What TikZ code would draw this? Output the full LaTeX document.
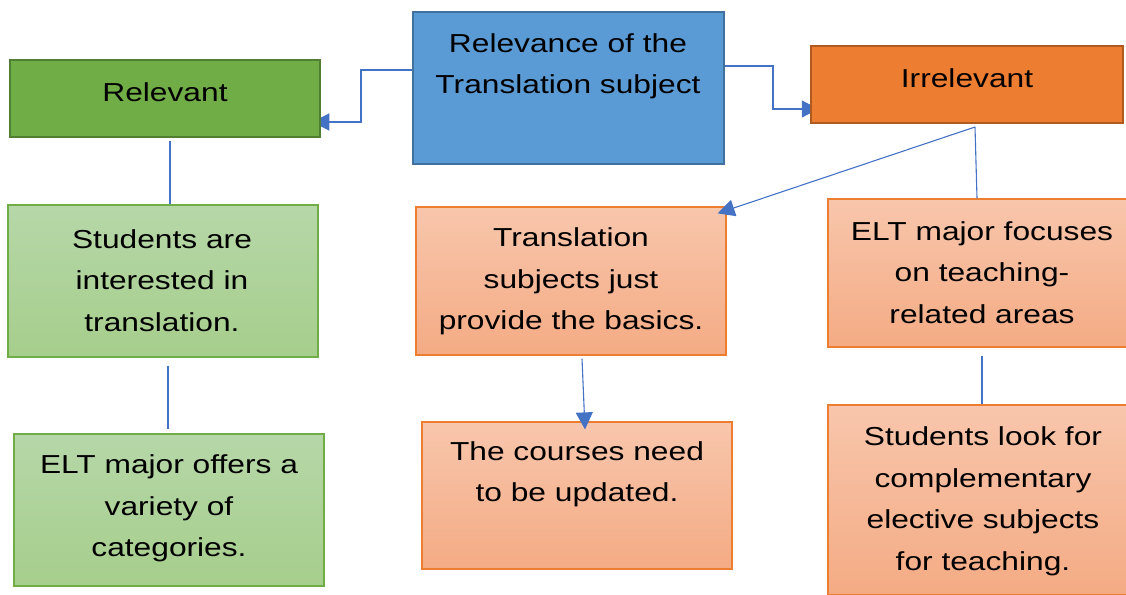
\documentclass[tikz,border=0pt]{standalone}
\usepackage{fontspec}
\setmainfont{Liberation Sans}[FakeStretch=1.22]
\usetikzlibrary{arrows.meta,calc}
\pgfdeclarelayer{behind}
\pgfsetlayers{behind,main}

\definecolor{relFill}{HTML}{70AD47}
\definecolor{relEdge}{HTML}{507E32}
\definecolor{ctrFill}{HTML}{5B9BD5}
\definecolor{ctrEdge}{HTML}{41719C}
\definecolor{irrFill}{HTML}{ED7D31}
\definecolor{irrEdge}{HTML}{AE5A21}
\definecolor{gTop}{HTML}{B6D7A8}
\definecolor{gBot}{HTML}{A6CE8C}
\definecolor{gEdge}{HTML}{70AD47}
\definecolor{oTop}{HTML}{F8C6AC}
\definecolor{oBot}{HTML}{F4AB84}
\definecolor{oEdge}{HTML}{ED7D31}
\definecolor{linkCol}{HTML}{4472C4}

\begin{document}
\begin{tikzpicture}[x=1pt,y=-1pt,
  box/.style={rectangle, inner sep=0pt, minimum width=310pt},
  headbox/.style={box, line width=2.5pt, minimum height=77pt},
  greenbox/.style={box, draw=gEdge, line width=1.2pt, top color=gTop, bottom color=gBot},
  orangebox/.style={box, draw=oEdge, line width=1.2pt, top color=oTop, bottom color=oBot},
  txt/.style={align=center, inner sep=0pt, font=\fontsize{26}{41.5}\selectfont},
  link/.style={draw=linkCol, line width=1.1pt},
  arr/.style={link, -{Triangle[length=17pt,width=17pt]}}]

\useasboundingbox (0,0) rectangle (1126,594);
\clip (0,0) rectangle (1126,594);

% header row
\node[headbox, draw=relEdge, fill=relFill] (rel) at (165,98.5) {};
\node[headbox, draw=ctrEdge, fill=ctrFill, minimum width=311pt, minimum height=152pt] (ctr) at (568.5,88) {};
\node[headbox, draw=irrEdge, fill=irrFill, minimum width=312pt] (irr) at (967,84.5) {};

% detail boxes
\node[greenbox, minimum height=152pt] (g1) at (163,281) {};
\node[greenbox, minimum height=152pt] (g2) at (169,510) {};
\node[orangebox, minimum height=148pt] (tr) at (571,281) {};
\node[orangebox, minimum height=147pt] (crs) at (577,495.5) {};
\node[orangebox, minimum height=148pt] (elt) at (983,273) {};
\node[orangebox, minimum height=190pt] (slf) at (983,500) {};

% texts
\node[txt] (tRel) at (165,92.5) {Relevant};
\node[txt] (tCtr) at (568,66.5) {Relevance of the\\Translation subject};
\node[txt] (tIrr) at (967,78.5) {Irrelevant};
\node[txt] (tG1) at (162,280.5) {Students are\\interested in\\translation.};
\node[txt] (tG2) at (169,508.5) {ELT major offers a\\variety of\\categories.};
\node[txt] (tTr) at (571,281.5) {Translation\\subjects just\\provide the basics.};
\node[txt] (tCrs) at (577,474.5) {The courses need\\to be updated.};
\node[txt] (tElt) at (982,272.5) {ELT major focuses\\on teaching-\\related areas};
\node[txt] (tSlf) at (983,501.5) {Students look for\\complementary\\elective subjects\\for teaching.};

% elbow connectors from the title box, tips tucked under the target boxes
\begin{pgfonlayer}{behind}
\draw[arr] (ctr.west |- 0,70) -- (361,70) |- ([xshift=-9pt]rel.east |- 0,122);
\draw[arr] (ctr.east |- 0,66) -- (773,66) |- ([xshift=9pt]irr.west |- 0,109);
\end{pgfonlayer}

% remaining connectors
\coordinate (fork) at (975,127);
\draw[arr] (fork) -- ([xshift=-9pt,yshift=-7pt]tr.north east);
\draw[link] (fork) -- (elt.north -| 977,0);
\draw[link] ($(rel.south)+(5,3)$) -- ($(g1.north)+(7,0)$);
\draw[link] ($(g1.south)+(5,8)$) -- ($(g2.north)+(-1,-4)$);
\draw[arr] ($(tr.south)+(11,3)$) -- ($(crs.north)+(8,8)$);
\draw[link] ($(elt.south)+(-1,8)$) -- ($(slf.north)+(-1,0)$);
\end{tikzpicture}
\end{document}
